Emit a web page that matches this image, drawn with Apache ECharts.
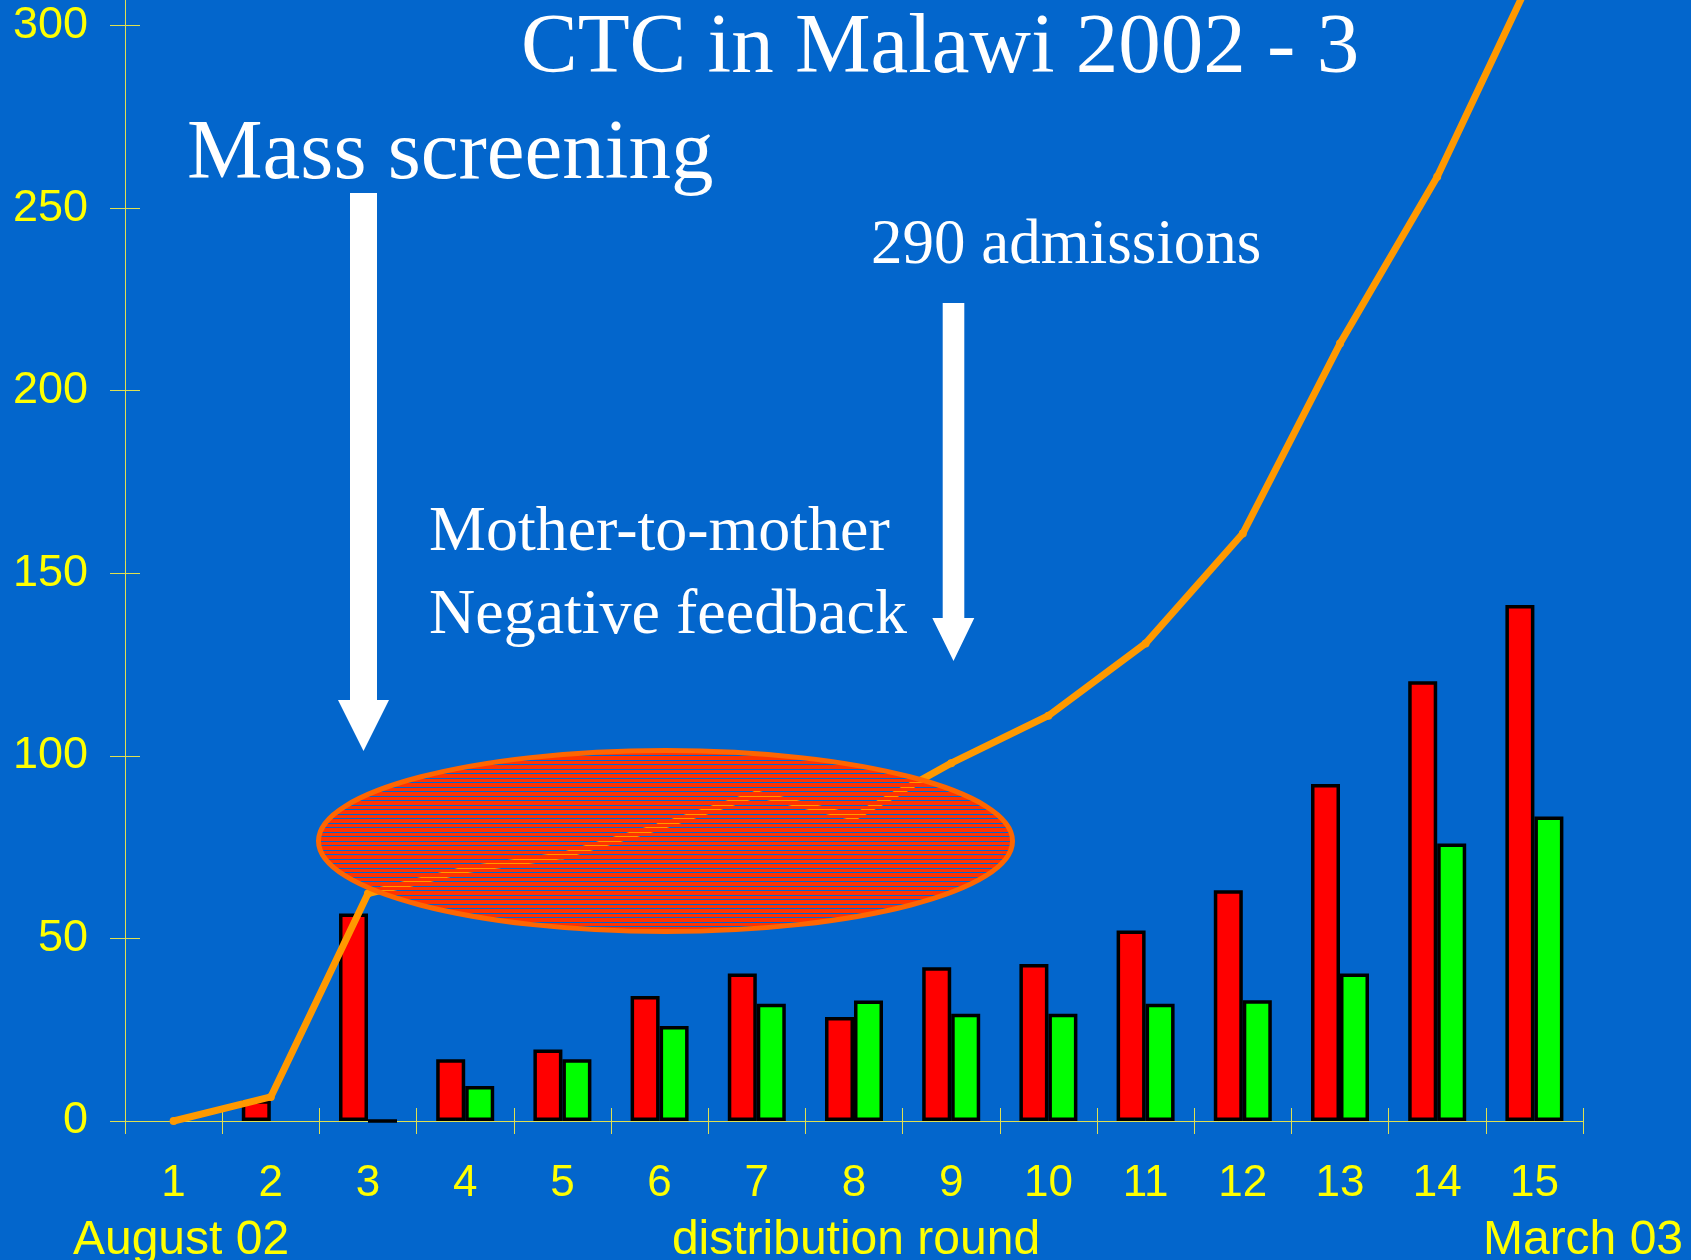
<!DOCTYPE html>
<html>
<head>
<meta charset="utf-8">
<title>CTC in Malawi 2002 - 3</title>
<script src="https://cdn.jsdelivr.net/npm/echarts@6/dist/echarts.min.js"></script>
<style>
html, body { margin: 0; padding: 0; background: #0366cc; }
#main { width: 1691px; height: 1260px; }
</style>
</head>
<body>
<div id="main"></div>
<script>
// distribution rounds, August 02 .. March 03
var rounds = ['1', '2', '3', '4', '5', '6', '7', '8', '9', '10', '11', '12', '13', '14', '15'];
var redBars = [null, 5.7, 56.8, 16.9, 19.6, 34.2, 40.4, 28.5, 42.1, 43, 52.2, 63.2, 92.3, 120.4, 141.3];
var greenBars = [null, null, 0, 9.6, 16.9, 26, 32.1, 33, 29.4, 29.4, 32.1, 33.1, 40.4, 76, 83.4];
var admissions = [0, 6.6, 62.3, 68.8, 72.7, 80.6, 89.5, 83.2, 98, 111, 130.8, 160.9, 212.9, 258.6, 315];
var yTicks = [0, 50, 100, 150, 200, 250, 300];

var serif = "'Liberation Serif', 'Times New Roman', serif";
var sans = "'Liberation Sans', Arial, sans-serif";
var axisCol = '#e0e050';

// striped fill for the ellipse
var hatch = document.createElement('canvas');
hatch.width = 4;
hatch.height = 9;
var hctx = hatch.getContext('2d');
hctx.fillStyle = '#ff3300';
hctx.fillRect(0, 0, 4, 4);
hctx.fillRect(0, 5, 4, 3);

var myChart = echarts.init(document.getElementById('main'));

var option = {
    backgroundColor: '#0366cc',
    animation: false,
    grid: { left: 125, right: 108, top: 0, bottom: 139 },
    xAxis: [{
        type: 'category',
        position: 'bottom',
        data: rounds,
        axisLine: { show: true, lineStyle: { color: axisCol, width: 1 } },
        axisTick: { show: true, inside: false, length: 13, lineStyle: { color: axisCol, width: 1 } },
        axisLabel: { color: '#ffff00', fontFamily: sans, fontSize: 44, margin: 41 },
        splitLine: { show: false }
    }, {
        type: 'category',
        position: 'bottom',
        data: rounds,
        axisLine: { show: true, lineStyle: { color: axisCol, width: 1 } },
        axisTick: { show: true, inside: true, length: 13, lineStyle: { color: axisCol, width: 1 } },
        axisLabel: { show: false },
        splitLine: { show: false }
    }],
    yAxis: [{
        type: 'value',
        position: 'left',
        min: 0,
        max: 307,
        axisLine: { show: true, lineStyle: { color: axisCol, width: 1 } },
        axisTick: { show: true, inside: false, length: 15, customValues: yTicks, lineStyle: { color: axisCol, width: 1 } },
        axisLabel: { color: '#ffff00', fontFamily: sans, fontSize: 45, margin: 37, customValues: yTicks },
        splitLine: { show: false }
    }, {
        type: 'value',
        position: 'left',
        min: 0,
        max: 307,
        axisLine: { show: true, lineStyle: { color: axisCol, width: 1 } },
        axisTick: { show: true, inside: true, length: 15, customValues: yTicks, lineStyle: { color: axisCol, width: 1 } },
        axisLabel: { show: false },
        splitLine: { show: false }
    }],
    series: [{
        name: 'red',
        type: 'bar',
        data: redBars,
        barWidth: 29,
        barGap: '0%',
        itemStyle: { color: '#ff0000', borderColor: '#000000', borderWidth: 3.5 }
    }, {
        name: 'green',
        type: 'bar',
        data: greenBars,
        barWidth: 29,
        barGap: '0%',
        itemStyle: { color: '#00ff00', borderColor: '#000000', borderWidth: 3.5 }
    }, {
        name: 'admissions',
        type: 'line',
        data: admissions,
        symbol: 'circle',
        symbolSize: 8,
        lineStyle: { color: '#ff9900', width: 7 },
        itemStyle: { color: '#ff9900' }
    }],
    graphic: [
        {
            type: 'text', z: 100,
            style: { text: 'CTC in Malawi 2002 - 3', x: 521, y: 50, fill: '#ffffff', font: '85px ' + serif, verticalAlign: 'middle' }
        },
        {
            type: 'text', z: 100,
            style: { text: 'Mass screening', x: 187, y: 156, fill: '#ffffff', font: '85px ' + serif, verticalAlign: 'middle' }
        },
        {
            type: 'text', z: 100,
            style: { text: '290 admissions', x: 871, y: 246, fill: '#ffffff', font: '63px ' + serif, verticalAlign: 'middle' }
        },
        {
            type: 'text', z: 100,
            style: { text: 'Mother-to-mother', x: 429, y: 533, fill: '#ffffff', font: '64px ' + serif, verticalAlign: 'middle' }
        },
        {
            type: 'text', z: 100,
            style: { text: 'Negative feedback', x: 429, y: 616, fill: '#ffffff', font: '64px ' + serif, verticalAlign: 'middle' }
        },
        {
            type: 'polygon', z: 100,
            shape: { points: [[350, 193], [377, 193], [377, 700], [389, 700], [363.5, 751], [338, 700], [350, 700]] },
            style: { fill: '#ffffff' }
        },
        {
            type: 'polygon', z: 100,
            shape: { points: [[942.7, 303], [964.3, 303], [964.3, 618], [974.3, 618], [953.5, 661], [932.3, 618], [942.7, 618]] },
            style: { fill: '#ffffff' }
        },
        {
            type: 'ellipse', z: 100,
            shape: { cx: 665.5, cy: 841, rx: 347, ry: 90.5 },
            style: { fill: { image: hatch, repeat: 'repeat' }, stroke: '#ff6600', lineWidth: 5 }
        },
        {
            type: 'text', z: 100,
            style: { text: 'August 02', x: 181, y: 1241, fill: '#ffff00', font: '48px ' + sans, align: 'center', verticalAlign: 'middle' }
        },
        {
            type: 'text', z: 100,
            style: { text: 'distribution round', x: 856, y: 1241, fill: '#ffff00', font: '48px ' + sans, align: 'center', verticalAlign: 'middle' }
        },
        {
            type: 'text', z: 100,
            style: { text: 'March 03', x: 1583, y: 1241, fill: '#ffff00', font: '48px ' + sans, align: 'center', verticalAlign: 'middle' }
        }
    ]
};

myChart.setOption(option);
</script>
</body>
</html>
